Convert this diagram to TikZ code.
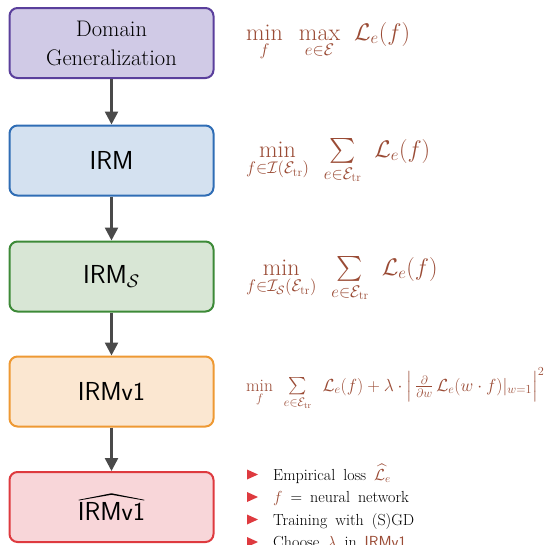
\RequirePackage{fix-cm}
\documentclass[tikz,border=0pt]{standalone}
\usepackage{amsmath}
\usepackage{fontspec}
\usetikzlibrary{arrows.meta}

\definecolor{dgfill}{HTML}{D0CAE6}
\definecolor{dgline}{HTML}{5A3F9C}
\definecolor{irmfill}{HTML}{D4E1F0}
\definecolor{irmline}{HTML}{2F6DB5}
\definecolor{irmsfill}{HTML}{D8E6D5}
\definecolor{irmsline}{HTML}{3D8A38}
\definecolor{vonefill}{HTML}{FBE7D1}
\definecolor{voneline}{HTML}{EE9933}
\definecolor{hatfill}{HTML}{F8D6D9}
\definecolor{hatline}{HTML}{DE3A3F}
\definecolor{arrowgray}{HTML}{4A4A4A}
\definecolor{mathbrown}{HTML}{9A4B35}
\definecolor{bulletred}{HTML}{DE3A3F}

\newcommand{\widewords}{\spaceskip=0.5em plus 0.1em\relax}
\newcommand{\Etr}{\mathcal{E}_{\mathrm{tr}}}

\begin{document}
\begin{tikzpicture}[x=1pt,y=-1pt,
  stage/.style={rounded corners=8pt, line width=2pt, minimum width=204pt,
    minimum height=70pt, inner sep=0pt, align=center},
  serifbox/.style={font=\fontsize{22.5}{29}\selectfont},
  sansbox/.style={font=\sffamily\fontsize{26}{30}\selectfont},
  flow/.style={draw=arrowgray, line width=2.5pt,
    -{Triangle[length=13pt,width=13pt]}},
  formula/.style={anchor=base west, inner sep=0pt, text=mathbrown},
  bigmath/.style={formula, font=\fontsize{24}{28}\selectfont},
  smallmath/.style={formula, font=\fontsize{17.5}{21}\selectfont},
  bullettext/.style={anchor=base west, inner sep=0pt,
    font=\fontsize{16}{19}\selectfont\widewords},
]
\useasboundingbox (0,0) rectangle (545,544);

% the chain of problems
\node[stage, serifbox, fill=dgfill, draw=dgline] (dg) at (111.5,43)
  {Domain\\Generalization};
\node[stage, sansbox, fill=irmfill, draw=irmline] (irm) at (111.5,160.5)
  {IRM};
\node[stage, sansbox, fill=irmsfill, draw=irmsline] (irms) at (111.5,276.5)
  {IRM$_{\mathcal{S}}$};
\node[stage, sansbox, fill=vonefill, draw=voneline] (vone) at (111.5,391.5)
  {IRMv1};
\node[stage, fill=hatfill, draw=hatline] (vhat) at (111.5,507) {};
\node[sansbox, inner sep=0pt] (vhattext) at (111.5,511) {IRMv1};
% wide hat over the empirical version
\fill ([xshift=1pt,yshift=2pt]vhattext.north west)
  -- ([yshift=8.5pt]vhattext.north)
  -- ([xshift=-1pt,yshift=2pt]vhattext.north east)
  -- ([xshift=-1pt,yshift=1.3pt]vhattext.north east)
  -- ([yshift=7pt]vhattext.north)
  -- ([xshift=1pt,yshift=1.3pt]vhattext.north west) -- cycle;

\draw[flow] (dg) -- (irm);
\draw[flow] (irm) -- (irms);
\draw[flow] (irms) -- (vone);
\draw[flow] (vone) -- (vhat);

% objectives
\node[bigmath] (fdg) at (246,40)
  {$\min\limits_{f}\hspace{12pt}\max\limits_{e\in\mathcal{E}}\hspace{10pt}
    \mathcal{L}_e(f)$};
\node[bigmath] (firm) at (246,157)
  {$\min\limits_{f\in\mathcal{I}(\Etr)}\hspace{11pt}
    \sum\limits_{e\in\Etr}\hspace{9pt}\mathcal{L}_e(f)$};
\node[bigmath] (firms) at (246,275)
  {$\min\limits_{f\in\mathcal{I}_{\mathcal{S}}(\Etr)}\hspace{11pt}
    \sum\limits_{e\in\Etr}\hspace{9pt}\mathcal{L}_e(f)$};
\node[smallmath] (fvone) at (246,391)
  {$\min\limits_{f}\hspace{8pt}\sum\limits_{e\in\Etr}\hspace{8pt}
    \mathcal{L}_e(f) + \lambda\cdot\Bigl|\,\frac{\partial}{\partial w}\,
    \mathcal{L}_e(w\cdot f)|_{w=1}\Bigr|^2$};

% practical ingredients
\node[bullettext] (l1) at (273,480)
  {Empirical loss \textcolor{mathbrown}{$\widehat{\mathcal{L}}_e$}};
\node[bullettext] (l2) at (273,502.5)
  {\textcolor{mathbrown}{$f$} = neural network};
\node[bullettext] (l3) at (273,525)
  {Training with (S)GD};
\node[bullettext] (l4) at (273,547.5)
  {Choose \textcolor{mathbrown}{$\lambda$} in
   \textcolor{mathbrown}{\textsf{IRMv1}}};

\foreach \l in {l1,l2,l3,l4}
  \fill[bulletred] ([shift={(-26,-0.5)}]\l.base west) -- ++(0,-10)
    -- ++(11,5) -- cycle;
\end{tikzpicture}
\end{document}
